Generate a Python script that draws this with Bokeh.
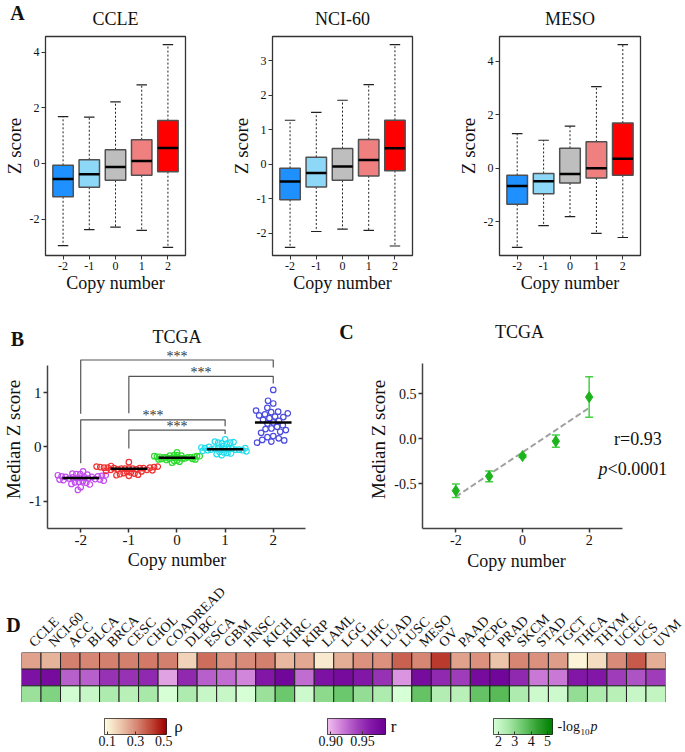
import numpy as np
from bokeh.plotting import figure
from bokeh.layouts import column, row
from bokeh.models import (FixedTicker, Label, LinearColorMapper, Range1d,
                          ColumnDataSource, FactorRange)
from bokeh.transform import linear_cmap
from bokeh.core.properties import value
from bokeh.embed import file_html
from bokeh.resources import INLINE

SERIF = "Liberation Serif"

# ---------------------------------------------------------------- data
copy_number = [-2, -1, 0, 1, 2]
copy_labels = ["-2", "-1", "0", "1", "2"]

# Panel A : box statistics (lower whisker, Q1, median, Q3, upper whisker)
ccle_lo = [-2.96, -2.38, -2.29, -2.41, -3.02]
ccle_q1 = [-1.20, -0.86, -0.61, -0.43, -0.30]
ccle_med = [-0.56, -0.39, -0.13, 0.09, 0.55]
ccle_q3 = [-0.07, 0.13, 0.49, 0.85, 1.54]
ccle_hi = [1.68, 1.66, 2.21, 2.82, 4.27]
ccle_yticks = [-2, 0, 2, 4]

nci_lo = [-2.41, -1.95, -1.88, -1.92, -2.37]
nci_q1 = [-1.03, -0.66, -0.47, -0.34, -0.19]
nci_med = [-0.50, -0.26, -0.07, 0.12, 0.46]
nci_q3 = [-0.12, 0.20, 0.45, 0.71, 1.27]
nci_hi = [1.27, 1.50, 1.85, 2.30, 3.46]
nci_yticks = [-2, -1, 0, 1, 2, 3]

meso_lo = [-2.95, -2.14, -1.80, -2.43, -2.58]
meso_q1 = [-1.34, -0.95, -0.55, -0.36, -0.26]
meso_med = [-0.66, -0.48, -0.21, 0.00, 0.36]
meso_q3 = [-0.26, -0.19, 0.75, 0.99, 1.69]
meso_hi = [1.30, 1.05, 1.58, 3.05, 4.62]
meso_yticks = [-2, 0, 2, 4]

# Panel B : median Z score per TCGA cancer type, by copy number
tcga_cn_m2 = [-0.45, -0.49, -0.50, -0.50, -0.51, -0.52, -0.52, -0.53, -0.54, -0.54, -0.55,
              -0.55, -0.56, -0.56, -0.57, -0.57, -0.58, -0.58, -0.59, -0.60, -0.60, -0.61,
              -0.62, -0.63, -0.64, -0.65, -0.66, -0.68, -0.69, -0.74, -0.79]
tcga_cn_m1 = [-0.28, -0.35, -0.36, -0.36, -0.37, -0.37, -0.38, -0.38, -0.38, -0.39, -0.39,
              -0.39, -0.40, -0.40, -0.40, -0.40, -0.41, -0.41, -0.42, -0.42, -0.43, -0.44,
              -0.45, -0.46, -0.47, -0.48, -0.49, -0.50, -0.51, -0.52, -0.53]
tcga_cn_0 = [-0.10, -0.15, -0.15, -0.16, -0.16, -0.17, -0.17, -0.17, -0.18, -0.18, -0.18,
             -0.19, -0.19, -0.19, -0.19, -0.20, -0.20, -0.20, -0.20, -0.21, -0.21, -0.21,
             -0.22, -0.22, -0.23, -0.23, -0.24, -0.25, -0.26, -0.27, -0.29]
tcga_cn_p1 = [0.14, 0.10, 0.09, 0.08, 0.08, 0.07, 0.06, 0.02, 0.00, -0.01, -0.02, -0.02,
              -0.03, -0.03, -0.03, -0.04, -0.04, -0.04, -0.05, -0.05, -0.05, -0.06, -0.06,
              -0.07, -0.08, -0.09, -0.10, -0.11, -0.12, -0.13, -0.15]
tcga_cn_p2 = [1.05, 0.85, 0.80, 0.72, 0.67, 0.65, 0.64, 0.62, 0.60, 0.58, 0.56, 0.55, 0.53,
              0.50, 0.48, 0.45, 0.43, 0.40, 0.37, 0.34, 0.33, 0.31, 0.28, 0.26, 0.20, 0.18,
              0.16, 0.13, 0.12, 0.10, 0.08]

# significance brackets in B
brk_x0 = [-2, -1, -2, -1]
brk_x1 = [2, 2, 1, 1]
brk_top = [1.60, 1.30, 0.50, 0.31]
brk_left_end = [0.61, 0.62, -0.30, -0.03]
brk_right_end = [1.46, 1.17, 0.38, 0.24]
brk_label = ["***", "***", "***", "***"]

# Panel C : mean and SD of the medians
c_mean = [-0.58, -0.42, -0.195, -0.03, 0.46]
c_sd = [0.075, 0.06, 0.015, 0.068, 0.225]
c_r_text = "r=0.93"
c_p_text = "<0.0001"

# Panel D : heatmap
cancers = ["CCLE", "NCI-60", "ACC", "BLCA", "BRCA", "CESC", "CHOL", "COADREAD", "DLBC",
           "ESCA", "GBM", "HNSC", "KICH", "KIRC", "KIRP", "LAML", "LGG", "LIHC", "LUAD",
           "LUSC", "MESO", "OV", "PAAD", "PCPG", "PRAD", "SKCM", "STAD", "TGCT", "THCA",
           "THYM", "UCEC", "UCS", "UVM"]
rho = [0.26, 0.23, 0.32, 0.31, 0.32, 0.32, 0.33, 0.32, 0.17, 0.35, 0.29, 0.30, 0.32, 0.22,
       0.25, 0.12, 0.24, 0.29, 0.29, 0.37, 0.31, 0.43, 0.26, 0.29, 0.20, 0.31, 0.29, 0.27,
       0.10, 0.15, 0.30, 0.38, 0.24]
r_val = [0.970, 0.975, 0.930, 0.930, 0.950, 0.950, 0.955, 0.905, 0.955, 0.930, 0.925,
         0.915, 0.965, 0.980, 0.925, 0.970, 0.975, 0.965, 0.950, 0.910, 0.975, 0.955,
         0.945, 0.975, 0.980, 0.955, 0.920, 0.920, 0.965, 0.965, 0.945, 0.935, 0.945]
nlogp = [2.8, 3.2, 1.8, 2.0, 2.5, 2.3, 2.6, 1.6, 2.5, 2.0, 2.0, 1.7, 2.8, 3.5, 1.9, 3.0,
         3.5, 2.9, 2.5, 1.6, 3.6, 2.4, 2.3, 3.6, 3.8, 2.5, 1.9, 1.9, 2.9, 2.5, 2.3, 2.0, 2.1]

rho_ticks = [0.1, 0.3, 0.5]
r_ticks = [0.90, 0.95]
p_ticks = [2, 3, 4, 5]

# ---------------------------------------------------------------- styles
BOX_COLORS = ["#1E90FF", "#8DD8F6", "#BEBEBE", "#F08080", "#FF0000"]
DOT_COLORS = ["#C24CF0", "#F03232", "#2EDB2E", "#22DDEE", "#4B4BDF"]
SWARM_D = [4.0, 3.8, 2.8, 3.6, 6.0]
TXT = "#111111"


def ramp(stops, n=256):
    cols = np.array([[int(s[i:i + 2], 16) for i in (1, 3, 5)] for s in stops], float)
    pos = np.linspace(0, 1, len(stops))
    t = np.linspace(0, 1, n)
    out = []
    for tt in t:
        c = [np.interp(tt, pos, cols[:, k]) for k in range(3)]
        out.append("#%02x%02x%02x" % tuple(int(round(v)) for v in c))
    return out


RHO_PAL = ramp(["#FFFDE2", "#EDC9AE", "#D98C7A", "#C04838", "#A00000"])
R_PAL = ramp(["#F0BEEE", "#CE7ED8", "#A445BE", "#8418A8", "#6A0096"])
P_PAL = ramp(["#D6FFD6", "#A8E8A8", "#6CC86C", "#30A030", "#007F00"])
RHO_RANGE = (0.08, 0.52)
R_RANGE = (0.895, 0.986)
P_RANGE = (1.7, 5.3)


def style_axes(p, tick_size, label_size):
    p.xgrid.visible = False
    p.ygrid.visible = False
    for ax in p.axis:
        ax.major_label_text_font = SERIF
        ax.major_label_text_font_size = tick_size
        ax.major_label_text_color = TXT
        ax.axis_label_text_font = SERIF
        ax.axis_label_text_font_size = label_size
        ax.axis_label_text_font_style = "normal"
        ax.axis_label_text_color = TXT
        ax.minor_tick_line_color = None
        ax.major_tick_in = 0
        ax.major_tick_out = 4
        ax.major_tick_line_color = "#333333"
        ax.major_label_standoff = 2
        ax.axis_label_standoff = 2


def side_label(p, side, x, y, text, dx, dy, size, style="normal", align="center",
               baseline="middle"):
    # label placed in a side panel so it is drawn outside the plot frame
    p.add_layout(Label(x=x, y=y, x_offset=dx, y_offset=dy, text=text,
                       text_font=SERIF, text_font_size=size, text_font_style=style,
                       text_align=align, text_baseline=baseline, text_color=TXT), side)


def add_label(p, x, y, text, dx, dy, size, style="normal", align="center",
              baseline="middle"):
    p.add_layout(Label(x=x, y=y, x_offset=dx, y_offset=dy, text=text,
                       text_font=SERIF, text_font_size=size, text_font_style=style,
                       text_align=align, text_baseline=baseline, text_color=TXT))


# ---------------------------------------------------------------- panel A
def box_panel(name, lo, q1, med, q3, hi, yticks, width, frame_w, letter=None):
    span = max(hi) - min(lo)
    yr = Range1d(min(lo) - 0.04 * span, max(hi) + 0.04 * span)
    p = figure(width=width, height=298, x_range=Range1d(-2.67, 2.67), y_range=yr,
               output_backend="svg", toolbar_location=None,
               min_border_left=40, min_border_right=width - 40 - frame_w,
               min_border_top=36, min_border_bottom=43)
    x = np.array(copy_number, float)
    src = ColumnDataSource(dict(x=x, lo=lo, q1=q1, med=med, q3=q3, hi=hi,
                                color=BOX_COLORS, xl=x - 0.39, xr=x + 0.39,
                                cl=x - 0.2, cr=x + 0.2))
    p.segment(x0="x", y0="q3", x1="x", y1="hi", source=src, line_color="#222222",
              line_width=1, line_dash="2 2")
    p.segment(x0="x", y0="q1", x1="x", y1="lo", source=src, line_color="#222222",
              line_width=1, line_dash="2 2")
    p.segment(x0="cl", y0="hi", x1="cr", y1="hi", source=src, line_color="#222222",
              line_width=1.2)
    p.segment(x0="cl", y0="lo", x1="cr", y1="lo", source=src, line_color="#222222",
              line_width=1.2)
    p.vbar(x="x", width=0.78, bottom="q1", top="q3", source=src, fill_color="color",
           line_color="#505050", line_width=1.5)
    p.segment(x0="xl", y0="med", x1="xr", y1="med", source=src, line_color="black",
              line_width=2.5)
    style_axes(p, "12px", "19px")
    p.xaxis.ticker = FixedTicker(ticks=copy_number)
    p.xaxis.major_label_overrides = dict(zip(copy_number, copy_labels))
    p.yaxis.ticker = FixedTicker(ticks=yticks)
    p.yaxis.major_label_overrides = {t: str(t) for t in yticks}
    p.yaxis.axis_label = "Z score"
    p.axis.axis_line_color = None
    p.outline_line_color = "#333333"
    p.outline_line_width = 1.3
    side_label(p, "above", 0, yr.end, name, 0, 18, "18px")
    side_label(p, "below", 0, yr.start, "Copy number", 0, -27, "18px")
    if letter:
        side_label(p, "right", -2.67, yr.end, letter, -28, 24, "20px", style="bold")
    return p


pa1 = box_panel("CCLE", ccle_lo, ccle_q1, ccle_med, ccle_q3, ccle_hi, ccle_yticks,
                227, 145, "A")
pa2 = box_panel("NCI-60", nci_lo, nci_q1, nci_med, nci_q3, nci_hi, nci_yticks, 227, 145)
pa3 = box_panel("MESO", meso_lo, meso_q1, meso_med, meso_q3, meso_hi, meso_yticks, 231, 146)


# ---------------------------------------------------------------- panel B
def beeswarm(vals, d, sx, sy):
    vals = np.asarray(vals, float)
    ypx = vals * sy
    order = np.argsort(np.abs(vals - np.median(vals)), kind="stable")
    xs = np.zeros(len(vals))
    placed = []
    for i in order:
        cands = [0.0]
        for j in placed:
            dy = abs(ypx[i] - ypx[j])
            if dy < d:
                w = np.sqrt(d * d - dy * dy)
                cands += [xs[j] - w, xs[j] + w]
        cands.sort(key=abs)
        for c in cands:
            if all((c - xs[j]) ** 2 + (ypx[i] - ypx[j]) ** 2 >= d * d - 1e-6 for j in placed):
                xs[i] = c
                break
        placed.append(i)
    return xs / sx


BX = (-2.69, 2.67)
BY = (-1.5, 1.775)
pb = figure(width=338, height=277, x_range=Range1d(*BX), y_range=Range1d(*BY),
            output_backend="svg", toolbar_location=None,
            min_border_left=43, min_border_right=33, min_border_top=45, min_border_bottom=46)
groups = [tcga_cn_m2, tcga_cn_m1, tcga_cn_0, tcga_cn_p1, tcga_cn_p2]
SX = 262 / (BX[1] - BX[0])
SY = 186 / (BY[1] - BY[0])
for cn, vals, col, dd in zip(copy_number, groups, DOT_COLORS, SWARM_D):
    off = beeswarm(vals, dd, SX, SY)
    pb.scatter(x=cn + off, y=vals, marker="circle", size=5.5, fill_color=None,
               line_color=col, line_width=1.2)
meds = [float(np.median(g)) for g in groups]
cnx = np.array(copy_number, float)
pb.segment(x0=cnx - 0.38, y0=meds, x1=cnx + 0.38, y1=meds, line_color="black", line_width=2.5)
bx = [[a, a, b, b] for a, b in zip(brk_x0, brk_x1)]
by = [[l, t, t, r] for l, t, r in zip(brk_left_end, brk_top, brk_right_end)]
pb.multi_line(xs=bx, ys=by, line_color="#555555", line_width=1.2)
pb.text(x=[(a + b) / 2 for a, b in zip(brk_x0, brk_x1)], y=brk_top, text=brk_label,
        text_font=value(SERIF), text_font_size="14px", text_align="center",
        text_baseline="middle", y_offset=-4, text_color="#333333")
style_axes(pb, "15px", "19px")
pb.xaxis.ticker = FixedTicker(ticks=copy_number)
pb.xaxis.major_label_overrides = dict(zip(copy_number, copy_labels))
pb.yaxis.ticker = FixedTicker(ticks=[-1, 0, 1])
pb.yaxis.major_label_overrides = {-1: "-1", 0: "0", 1: "1"}
pb.yaxis.bounds = (-1.5, 1.5)
pb.yaxis.axis_label = "Median Z score"
for ax in pb.axis:
    ax.axis_line_color = "#444444"
    ax.axis_line_width = 1.5
    ax.major_tick_line_width = 1.5
pb.outline_line_color = None
side_label(pb, "above", 0, BY[1], "TCGA", 0, 14, "18px")
side_label(pb, "below", 0, BY[0], "Copy number", 0, -31, "18px")
side_label(pb, "right", BX[0], BY[1], "B", -30, 12, "20px", style="bold")

# ---------------------------------------------------------------- panel C
CX = (-3, 4.5)
CY = (-1.0, 0.978)
pc = figure(width=347, height=277, x_range=Range1d(*CX), y_range=Range1d(*CY),
            output_backend="svg", toolbar_location=None,
            min_border_left=84, min_border_right=13, min_border_top=52, min_border_bottom=47)
cm = np.array(c_mean)
cs = np.array(c_sd)
slope, icpt = np.polyfit(cnx, cm, 1)
xfit = np.array([min(copy_number), max(copy_number)], float)
pc.line(x=xfit, y=slope * xfit + icpt, line_color="#A0A0A0", line_width=2, line_dash="6 3")
pc.segment(x0=cnx, y0=cm - cs, x1=cnx, y1=cm + cs, line_color="#45CF45", line_width=1.5)
pc.segment(x0=cnx - 0.12, y0=cm - cs, x1=cnx + 0.12, y1=cm - cs, line_color="#45CF45",
           line_width=1.5)
pc.segment(x0=cnx - 0.12, y0=cm + cs, x1=cnx + 0.12, y1=cm + cs, line_color="#45CF45",
           line_width=1.5)
pc.scatter(x=cnx, y=cm, marker="diamond", size=11, fill_color="#1DB31D", line_color="#1DB31D")
style_axes(pc, "14px", "19px")
pc.xaxis.ticker = FixedTicker(ticks=[-2, 0, 2])
pc.xaxis.major_label_overrides = {-2: "-2", 0: "0", 2: "2"}
pc.yaxis.ticker = FixedTicker(ticks=[-0.5, 0.0, 0.5])
pc.yaxis.major_label_overrides = {-0.5: "-0.5", 0: "0.0", 0.5: "0.5"}
pc.xaxis.bounds = (-3, 3)
pc.yaxis.bounds = (-1.0, 0.83)
pc.yaxis.axis_label = "Median Z score"
for ax in pc.axis:
    ax.axis_line_color = "#444444"
    ax.axis_line_width = 1.5
    ax.major_tick_line_width = 1.5
pc.outline_line_color = None
add_label(pc, 3.46, 0.0, c_r_text, 0, 0, "18px")
add_label(pc, 2.55, -0.336, "p", 0, 0, "18px", style="italic", align="right")
add_label(pc, 2.55, -0.336, c_p_text, 0, 0, "18px", align="left")
side_label(pc, "above", 0, CY[1], "TCGA", -3, 19, "18px")
side_label(pc, "below", 0, CY[0], "Copy number", -6, -32, "18px")
side_label(pc, "left", CX[0], CY[1], "C", -76, 19, "20px", style="bold")

# ---------------------------------------------------------------- panel D
rows_f = ["nlogp", "r", "rho"]
pd_ = figure(width=685, height=127, x_range=FactorRange(factors=cancers),
             y_range=FactorRange(factors=rows_f), x_axis_location="above",
             output_backend="svg", toolbar_location=None,
             min_border_left=21, min_border_right=20, min_border_top=76, min_border_bottom=0)
for key, vals, pal, rng in [("rho", rho, RHO_PAL, RHO_RANGE), ("r", r_val, R_PAL, R_RANGE),
                            ("nlogp", nlogp, P_PAL, P_RANGE)]:
    src = ColumnDataSource(dict(cancer=cancers, row=[key] * len(cancers), v=vals))
    pd_.rect(x="cancer", y="row", width=1, height=1, source=src,
             fill_color=linear_cmap("v", pal, rng[0], rng[1]),
             line_color="#222222", line_width=1)
pd_.yaxis.visible = False
pd_.xgrid.visible = False
pd_.ygrid.visible = False
pd_.outline_line_color = None
xa = pd_.xaxis[0]
xa.major_label_orientation = np.pi / 4
xa.major_label_text_font = SERIF
xa.major_label_text_font_size = "14px"
xa.major_label_text_color = TXT
xa.major_tick_line_color = None
xa.axis_line_color = None
xa.major_label_standoff = 2
side_label(pd_, "left", 0, 3, "D", -8, 28, "20px", style="bold")


def cbar(width, left, frame_w, rng, pal, ticks, tick_labels):
    p = figure(width=width, height=50, x_range=Range1d(*rng), y_range=Range1d(0, 1),
               output_backend="svg", toolbar_location=None,
               min_border_left=left, min_border_right=width - left - frame_w,
               min_border_top=16, min_border_bottom=18)
    mapper = LinearColorMapper(palette=pal, low=rng[0], high=rng[1])
    grad = np.linspace(rng[0], rng[1], 200).reshape(1, -1)
    p.image(image=[grad], x=rng[0], y=0, dw=rng[1] - rng[0], dh=1, color_mapper=mapper)
    p.yaxis.visible = False
    p.xgrid.visible = False
    p.ygrid.visible = False
    ax = p.xaxis[0]
    ax.ticker = FixedTicker(ticks=ticks)
    ax.major_label_overrides = dict(zip(ticks, tick_labels))
    ax.major_label_text_font = SERIF
    ax.major_label_text_font_size = "14px"
    ax.major_label_text_color = TXT
    ax.axis_line_color = None
    ax.major_tick_in = 3
    ax.major_tick_out = 0
    ax.major_tick_line_color = "#333333"
    ax.minor_tick_line_color = None
    ax.major_label_standoff = 1
    p.outline_line_color = "#222222"
    p.outline_line_width = 1
    return p


cb1 = cbar(240, 104, 62, RHO_RANGE, RHO_PAL, rho_ticks, ["0.1", "0.3", "0.5"])
side_label(cb1, "right", RHO_RANGE[1], 0.5, "ρ", 12, 0, "17px")
cb2 = cbar(220, 87, 58, R_RANGE, R_PAL, r_ticks, ["0.90", "0.95"])
side_label(cb2, "right", R_RANGE[1], 0.5, "r", 8, 0, "17px")
cb3 = cbar(225, 33, 59, P_RANGE, P_PAL, p_ticks, ["2", "3", "4", "5"])
side_label(cb3, "right", P_RANGE[1], 0.5, "-log", 5, 0, "14px", align="left")
side_label(cb3, "right", P_RANGE[1], 0.5, "10", 28, -5, "9px", align="left")
side_label(cb3, "right", P_RANGE[1], 0.5, "p", 38, 0, "14px", style="italic", align="left")

layout = column(row(pa1, pa2, pa3), row(pb, pc), pd_, row(cb1, cb2, cb3))
open("out.html", "w").write(file_html(layout, INLINE))
